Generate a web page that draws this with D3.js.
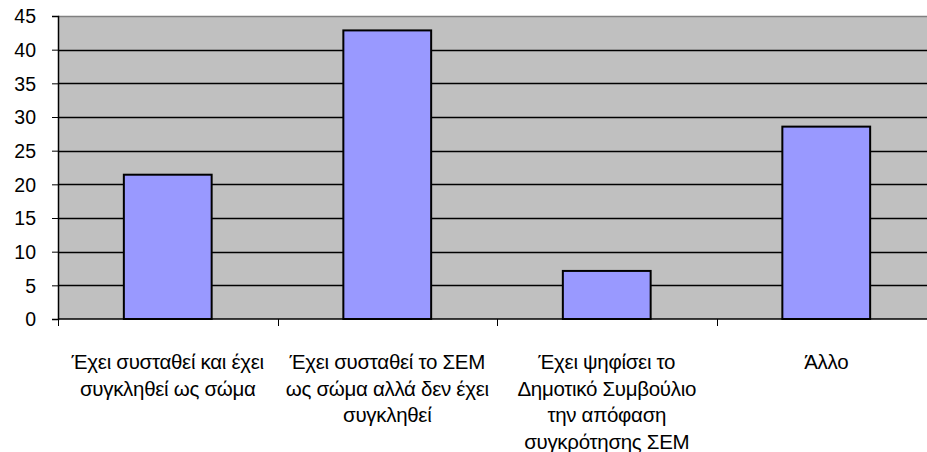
<!DOCTYPE html>
<html>
<head>
<meta charset="utf-8">
<script src="https://cdn.jsdelivr.net/npm/d3@7"></script>
<style>
  body { margin: 0; background: #fff; }
  text { font-family: "Liberation Sans", Arial, sans-serif; fill: #000; }
</style>
</head>
<body>
<div id="chart"></div>
<script>
// chart data
const categories = [
	"Έχει συσταθεί και έχει συγκληθεί ως σώμα",
	"Έχει συσταθεί το ΣΕΜ ως σώμα αλλά δεν έχει συγκληθεί",
	"Έχει ψηφίσει το Δημοτικό Συμβούλιο την απόφαση συγκρότησης ΣΕΜ",
	"Άλλο"
];
const labelLines = [
	["Έχει συσταθεί και έχει", "συγκληθεί ως σώμα"],
	["Έχει συσταθεί το ΣΕΜ", "ως σώμα αλλά δεν έχει", "συγκληθεί"],
	["Έχει ψηφίσει το", "Δημοτικό Συμβούλιο", "την απόφαση", "συγκρότησης ΣΕΜ"],
	["Άλλο"]
];
const values = [21.43, 42.86, 7.14, 28.57];
const yTicks = [0, 5, 10, 15, 20, 25, 30, 35, 40, 45];

let width = 927, height = 452;
let margin = { top: 16, left: 58, right: -9, bottom: 133 };
let innerW = width - margin.left - margin.right,
	innerH = height - margin.top - margin.bottom;

var svg = d3.select("#chart").append("svg")
	.attr("width", width)
	.attr("height", height)
	.append("g")
	.attr("transform", "translate(" + margin.left + "," + margin.top + ")");

var x = d3.scaleBand()
	.domain(categories)
	.range([0, innerW])
	.paddingInner(0.6)
	.paddingOuter(0.3);

var y = d3.scaleLinear()
	.domain([0, 45])
	.range([innerH, 0]);

// plot background
svg.append("rect")
	.attr("width", innerW)
	.attr("height", innerH)
	.attr("fill", "#c0c0c0");

// top border
svg.append("line")
	.attr("x1", 0).attr("x2", innerW)
	.attr("y1", 0.5).attr("y2", 0.5)
	.attr("stroke", "#808080")
	.attr("stroke-width", 1.5);

// gridlines
svg.selectAll(".grid")
	.data(yTicks.filter(d => d > 0 && d < 45))
	.enter()
	.append("line")
	.attr("x1", 0).attr("x2", innerW)
	.attr("y1", d => Math.round(y(d)) + 0.5)
	.attr("y2", d => Math.round(y(d)) + 0.5)
	.attr("stroke", "#000")
	.attr("stroke-width", 1.4);

// bars
svg.selectAll(".bar")
	.data(values)
	.enter()
	.append("rect")
	.attr("x", (d, i) => x(categories[i]))
	.attr("width", x.bandwidth())
	.attr("y", d => y(d))
	.attr("height", d => y(0) - y(d))
	.attr("fill", "#9999ff")
	.attr("stroke", "#000")
	.attr("stroke-width", 2);

// y axis
var yAxis = svg.append("g")
	.call(d3.axisLeft(y).tickValues(yTicks).tickSize(6).tickPadding(16));
yAxis.select(".domain").attr("stroke", "#000").attr("stroke-width", 1.5);
yAxis.selectAll(".tick line").attr("stroke", "#000");
yAxis.selectAll(".tick text")
	.style("font-size", "19.5px")
	.attr("fill", "#222")
	.attr("dy", "0.35em");

// x axis with ticks at category boundaries
var bounds = d3.range(categories.length + 1).map(i => i * innerW / categories.length);
var xg = svg.append("g").attr("transform", "translate(0," + innerH + ")");
xg.append("line")
	.attr("x1", 0).attr("x2", innerW)
	.attr("stroke", "#000").attr("stroke-width", 1.5);
xg.selectAll(".xt")
	.data(bounds)
	.enter()
	.append("line")
	.attr("x1", d => Math.round(d) + 0.5).attr("x2", d => Math.round(d) + 0.5)
	.attr("y1", 0).attr("y2", 7)
	.attr("stroke", "#000");

// category labels
labelLines.forEach(function(lines, i) {
	var cx = x(categories[i]) + x.bandwidth() / 2;
	var t = svg.append("text")
		.attr("x", cx)
		.attr("y", innerH + 50)
		.style("text-anchor", "middle")
		.style("font-size", "20.5px")
		.style("letter-spacing", "-0.3px")
		.attr("fill", "#222");
	lines.forEach(function(l, j) {
		t.append("tspan")
			.attr("x", cx)
			.attr("dy", j === 0 ? 0 : 26.5)
			.text(l);
	});
});
</script>
</body>
</html>
